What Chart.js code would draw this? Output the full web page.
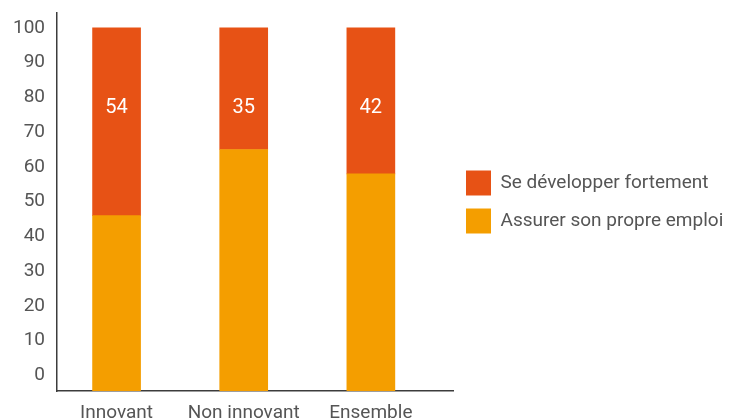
<!DOCTYPE html>
<html>
<head>
<meta charset="utf-8">
<script src="https://cdn.jsdelivr.net/npm/chart.js@4/dist/chart.umd.min.js"></script>
<style>
    html, body { margin: 0; padding: 0; background: #fff; }
    #wrap { width: 729px; height: 419px; position: relative; }
</style>
</head>
<body>
<div id="wrap"><canvas id="chart"></canvas></div>
<script>
// Chart data
const categories = ['Innovant', 'Non innovant', 'Ensemble'];
const emploiValues = [46, 65, 58];      // Assurer son propre emploi
const developperValues = [54, 35, 42];  // Se développer fortement
const yTicks = [0, 10, 20, 30, 40, 50, 60, 70, 80, 90, 100];

const textColor = '#555555';
const axisColor = '#3c3c3c';

// white value labels inside the top segment
const valueLabels = {
    id: 'valueLabels',
    afterDatasetsDraw(chart) {
        const meta = chart.getDatasetMeta(1);
        const ctx = chart.ctx;
        ctx.save();
        ctx.fillStyle = '#ffffff';
        ctx.font = '20px Roboto';
        ctx.textAlign = 'center';
        ctx.textBaseline = 'middle';
        meta.data.forEach((bar, i) => {
            ctx.fillText(String(developperValues[i]), bar.x, bar.y + 80);
        });
        ctx.restore();
    }
};

new Chart(document.getElementById('chart'), {
    type: 'bar',
    data: {
        datasets: [{
            label: 'Assurer son propre emploi',
            data: emploiValues.map((v, i) => ({ x: i, y: v })),
            backgroundColor: '#f49e00',
            borderWidth: 0,
            base: -4.5
        }, {
            label: 'Se développer fortement',
            data: developperValues.map((v, i) => ({ x: i, y: v })),
            backgroundColor: '#e75215',
            borderWidth: 0
        }]
    },
    options: {
        responsive: true,
        maintainAspectRatio: false,
        animation: false,
        barThickness: 48,
        layout: { padding: { top: 13, left: 0, right: 0, bottom: 0 } },
        plugins: {
            tooltip: { enabled: false },
            legend: {
                position: 'right',
                fullSize: false,
                maxWidth: 276,
                reverse: true,
                labels: {
                    color: textColor,
                    font: { family: 'Roboto', size: 19 },
                    boxWidth: 25,
                    boxHeight: 25,
                    padding: 13
                }
            }
        },
        scales: {
            x: {
                type: 'linear',
                stacked: true,
                offset: false,
                min: -0.4685,
                max: 2.646,
                grid: { display: false, drawTicks: false },
                border: { display: true, color: axisColor, width: 1.5 },
                afterBuildTicks: (scale) => {
                    scale.ticks = categories.map((c, i) => ({ value: i }));
                },
                afterFit: (scale) => {
                    scale.height = 28;
                    scale.paddingLeft = 0;
                    scale.paddingRight = 0;
                },
                ticks: {
                    color: textColor,
                    font: { family: 'Roboto', size: 19 },
                    padding: 11,
                    autoSkip: false,
                    maxRotation: 0,
                    callback: (v) => categories[v]
                }
            },
            y: {
                stacked: true,
                min: -4.5,
                max: 104.3,
                grid: { display: false, drawTicks: false },
                border: { display: true, color: axisColor, width: 1.5 },
                afterBuildTicks: (scale) => {
                    scale.ticks = yTicks.map(v => ({ value: v }));
                },
                afterFit: (scale) => {
                    scale.width = 57;
                    scale.paddingTop = 0;
                    scale.paddingBottom = 0;
                },
                ticks: {
                    color: textColor,
                    font: { family: 'Roboto', size: 19 },
                    padding: 12
                }
            }
        }
    },
    plugins: [valueLabels]
});
</script>
</body>
</html>
